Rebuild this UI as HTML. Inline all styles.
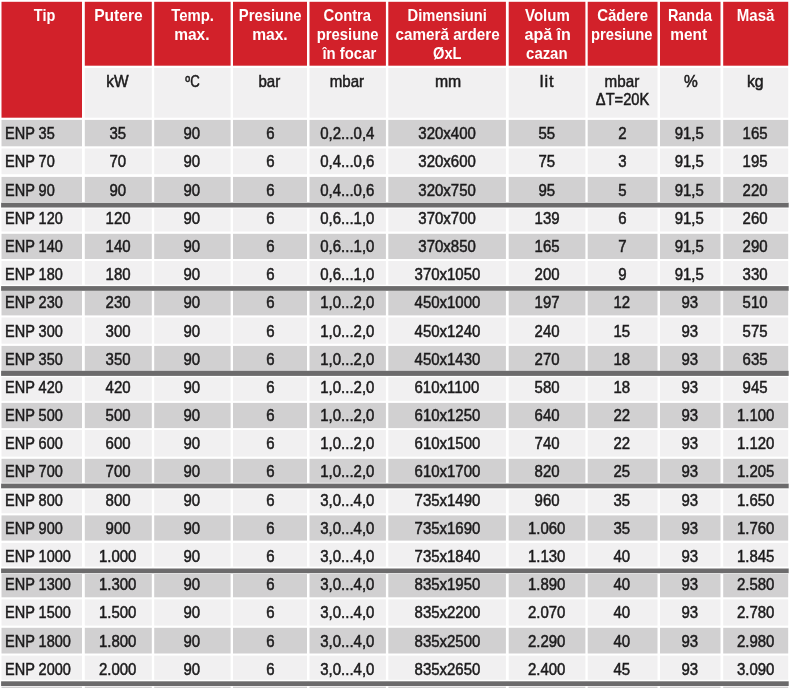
<!DOCTYPE html>
<html lang="ro"><head><meta charset="utf-8"><title>ENP</title><style>
html,body{margin:0;padding:0;background:#fff;}
body{width:790px;height:688px;position:relative;overflow:hidden;font-family:"Liberation Sans",sans-serif;}
#bg{position:absolute;left:0;top:0;width:790px;height:688px;display:block;}
.t{position:absolute;white-space:nowrap;color:#1c1b1c;font-size:15.7px;line-height:20px;height:20px;text-align:center;}
.t span{display:inline-block;transform:scaleX(0.955);transform-origin:50% 50%;}
.t.l{text-align:left;}
.t.l span{transform-origin:0 50%;}
.h{position:absolute;white-space:nowrap;color:#fff;font-weight:bold;font-size:15.7px;line-height:20px;height:20px;text-align:center;}
.h span{display:inline-block;transform-origin:50% 50%;}
.u{font-size:15.7px;}
#tx{position:absolute;left:0;top:0;width:790px;height:688px;will-change:transform;}
.t{-webkit-text-stroke:0.5px #1c1b1c;}
.h{-webkit-text-stroke:0px #fff;}
</style></head><body>
<svg id="bg" width="790" height="688" viewBox="0 0 790 688">
<rect x="1.5" y="1.8" width="80.5" height="115.9" fill="#d2212a"/>
<rect x="84.8" y="1.8" width="67" height="63.9" fill="#d2212a"/>
<rect x="84.8" y="68" width="67" height="49.7" fill="#f1f0f1"/>
<rect x="154.2" y="1.8" width="76.4" height="63.9" fill="#d2212a"/>
<rect x="154.2" y="68" width="76.4" height="49.7" fill="#f1f0f1"/>
<rect x="233" y="1.8" width="74" height="63.9" fill="#d2212a"/>
<rect x="233" y="68" width="74" height="49.7" fill="#f1f0f1"/>
<rect x="309.5" y="1.8" width="76.4" height="63.9" fill="#d2212a"/>
<rect x="309.5" y="68" width="76.4" height="49.7" fill="#f1f0f1"/>
<rect x="388.3" y="1.8" width="117.6" height="63.9" fill="#d2212a"/>
<rect x="388.3" y="68" width="117.6" height="49.7" fill="#f1f0f1"/>
<rect x="508.7" y="1.8" width="76.7" height="63.9" fill="#d2212a"/>
<rect x="508.7" y="68" width="76.7" height="49.7" fill="#f1f0f1"/>
<rect x="587.7" y="1.8" width="69.8" height="63.9" fill="#d2212a"/>
<rect x="587.7" y="68" width="69.8" height="49.7" fill="#f1f0f1"/>
<rect x="660" y="1.8" width="60.5" height="63.9" fill="#d2212a"/>
<rect x="660" y="68" width="60.5" height="49.7" fill="#f1f0f1"/>
<rect x="723.2" y="1.8" width="65" height="63.9" fill="#d2212a"/>
<rect x="723.2" y="68" width="65" height="49.7" fill="#f1f0f1"/>
<rect x="1.5" y="119.9" width="80.5" height="26.4" fill="#d1d0d1"/>
<rect x="84.8" y="119.9" width="67" height="26.4" fill="#d1d0d1"/>
<rect x="154.2" y="119.9" width="76.4" height="26.4" fill="#d1d0d1"/>
<rect x="233" y="119.9" width="74" height="26.4" fill="#d1d0d1"/>
<rect x="309.5" y="119.9" width="76.4" height="26.4" fill="#d1d0d1"/>
<rect x="388.3" y="119.9" width="117.6" height="26.4" fill="#d1d0d1"/>
<rect x="508.7" y="119.9" width="76.7" height="26.4" fill="#d1d0d1"/>
<rect x="587.7" y="119.9" width="69.8" height="26.4" fill="#d1d0d1"/>
<rect x="660" y="119.9" width="60.5" height="26.4" fill="#d1d0d1"/>
<rect x="723.2" y="119.9" width="65" height="26.4" fill="#d1d0d1"/>
<rect x="1.5" y="148.5" width="80.5" height="25.7" fill="#f1f0f1"/>
<rect x="84.8" y="148.5" width="67" height="25.7" fill="#f1f0f1"/>
<rect x="154.2" y="148.5" width="76.4" height="25.7" fill="#f1f0f1"/>
<rect x="233" y="148.5" width="74" height="25.7" fill="#f1f0f1"/>
<rect x="309.5" y="148.5" width="76.4" height="25.7" fill="#f1f0f1"/>
<rect x="388.3" y="148.5" width="117.6" height="25.7" fill="#f1f0f1"/>
<rect x="508.7" y="148.5" width="76.7" height="25.7" fill="#f1f0f1"/>
<rect x="587.7" y="148.5" width="69.8" height="25.7" fill="#f1f0f1"/>
<rect x="660" y="148.5" width="60.5" height="25.7" fill="#f1f0f1"/>
<rect x="723.2" y="148.5" width="65" height="25.7" fill="#f1f0f1"/>
<rect x="1.5" y="176.9" width="80.5" height="25.1" fill="#d1d0d1"/>
<rect x="84.8" y="176.9" width="67" height="25.1" fill="#d1d0d1"/>
<rect x="154.2" y="176.9" width="76.4" height="25.1" fill="#d1d0d1"/>
<rect x="233" y="176.9" width="74" height="25.1" fill="#d1d0d1"/>
<rect x="309.5" y="176.9" width="76.4" height="25.1" fill="#d1d0d1"/>
<rect x="388.3" y="176.9" width="117.6" height="25.1" fill="#d1d0d1"/>
<rect x="508.7" y="176.9" width="76.7" height="25.1" fill="#d1d0d1"/>
<rect x="587.7" y="176.9" width="69.8" height="25.1" fill="#d1d0d1"/>
<rect x="660" y="176.9" width="60.5" height="25.1" fill="#d1d0d1"/>
<rect x="723.2" y="176.9" width="65" height="25.1" fill="#d1d0d1"/>
<rect x="1.5" y="208.6" width="80.5" height="22.9" fill="#f1f0f1"/>
<rect x="84.8" y="208.6" width="67" height="22.9" fill="#f1f0f1"/>
<rect x="154.2" y="208.6" width="76.4" height="22.9" fill="#f1f0f1"/>
<rect x="233" y="208.6" width="74" height="22.9" fill="#f1f0f1"/>
<rect x="309.5" y="208.6" width="76.4" height="22.9" fill="#f1f0f1"/>
<rect x="388.3" y="208.6" width="117.6" height="22.9" fill="#f1f0f1"/>
<rect x="508.7" y="208.6" width="76.7" height="22.9" fill="#f1f0f1"/>
<rect x="587.7" y="208.6" width="69.8" height="22.9" fill="#f1f0f1"/>
<rect x="660" y="208.6" width="60.5" height="22.9" fill="#f1f0f1"/>
<rect x="723.2" y="208.6" width="65" height="22.9" fill="#f1f0f1"/>
<rect x="1.5" y="233.8" width="80.5" height="25.2" fill="#d1d0d1"/>
<rect x="84.8" y="233.8" width="67" height="25.2" fill="#d1d0d1"/>
<rect x="154.2" y="233.8" width="76.4" height="25.2" fill="#d1d0d1"/>
<rect x="233" y="233.8" width="74" height="25.2" fill="#d1d0d1"/>
<rect x="309.5" y="233.8" width="76.4" height="25.2" fill="#d1d0d1"/>
<rect x="388.3" y="233.8" width="117.6" height="25.2" fill="#d1d0d1"/>
<rect x="508.7" y="233.8" width="76.7" height="25.2" fill="#d1d0d1"/>
<rect x="587.7" y="233.8" width="69.8" height="25.2" fill="#d1d0d1"/>
<rect x="660" y="233.8" width="60.5" height="25.2" fill="#d1d0d1"/>
<rect x="723.2" y="233.8" width="65" height="25.2" fill="#d1d0d1"/>
<rect x="1.5" y="261" width="80.5" height="23.7" fill="#f1f0f1"/>
<rect x="84.8" y="261" width="67" height="23.7" fill="#f1f0f1"/>
<rect x="154.2" y="261" width="76.4" height="23.7" fill="#f1f0f1"/>
<rect x="233" y="261" width="74" height="23.7" fill="#f1f0f1"/>
<rect x="309.5" y="261" width="76.4" height="23.7" fill="#f1f0f1"/>
<rect x="388.3" y="261" width="117.6" height="23.7" fill="#f1f0f1"/>
<rect x="508.7" y="261" width="76.7" height="23.7" fill="#f1f0f1"/>
<rect x="587.7" y="261" width="69.8" height="23.7" fill="#f1f0f1"/>
<rect x="660" y="261" width="60.5" height="23.7" fill="#f1f0f1"/>
<rect x="723.2" y="261" width="65" height="23.7" fill="#f1f0f1"/>
<rect x="1.5" y="290.8" width="80.5" height="24.6" fill="#d1d0d1"/>
<rect x="84.8" y="290.8" width="67" height="24.6" fill="#d1d0d1"/>
<rect x="154.2" y="290.8" width="76.4" height="24.6" fill="#d1d0d1"/>
<rect x="233" y="290.8" width="74" height="24.6" fill="#d1d0d1"/>
<rect x="309.5" y="290.8" width="76.4" height="24.6" fill="#d1d0d1"/>
<rect x="388.3" y="290.8" width="117.6" height="24.6" fill="#d1d0d1"/>
<rect x="508.7" y="290.8" width="76.7" height="24.6" fill="#d1d0d1"/>
<rect x="587.7" y="290.8" width="69.8" height="24.6" fill="#d1d0d1"/>
<rect x="660" y="290.8" width="60.5" height="24.6" fill="#d1d0d1"/>
<rect x="723.2" y="290.8" width="65" height="24.6" fill="#d1d0d1"/>
<rect x="1.5" y="317.5" width="80.5" height="26.2" fill="#f1f0f1"/>
<rect x="84.8" y="317.5" width="67" height="26.2" fill="#f1f0f1"/>
<rect x="154.2" y="317.5" width="76.4" height="26.2" fill="#f1f0f1"/>
<rect x="233" y="317.5" width="74" height="26.2" fill="#f1f0f1"/>
<rect x="309.5" y="317.5" width="76.4" height="26.2" fill="#f1f0f1"/>
<rect x="388.3" y="317.5" width="117.6" height="26.2" fill="#f1f0f1"/>
<rect x="508.7" y="317.5" width="76.7" height="26.2" fill="#f1f0f1"/>
<rect x="587.7" y="317.5" width="69.8" height="26.2" fill="#f1f0f1"/>
<rect x="660" y="317.5" width="60.5" height="26.2" fill="#f1f0f1"/>
<rect x="723.2" y="317.5" width="65" height="26.2" fill="#f1f0f1"/>
<rect x="1.5" y="345.9" width="80.5" height="24.9" fill="#d1d0d1"/>
<rect x="84.8" y="345.9" width="67" height="24.9" fill="#d1d0d1"/>
<rect x="154.2" y="345.9" width="76.4" height="24.9" fill="#d1d0d1"/>
<rect x="233" y="345.9" width="74" height="24.9" fill="#d1d0d1"/>
<rect x="309.5" y="345.9" width="76.4" height="24.9" fill="#d1d0d1"/>
<rect x="388.3" y="345.9" width="117.6" height="24.9" fill="#d1d0d1"/>
<rect x="508.7" y="345.9" width="76.7" height="24.9" fill="#d1d0d1"/>
<rect x="587.7" y="345.9" width="69.8" height="24.9" fill="#d1d0d1"/>
<rect x="660" y="345.9" width="60.5" height="24.9" fill="#d1d0d1"/>
<rect x="723.2" y="345.9" width="65" height="24.9" fill="#d1d0d1"/>
<rect x="1.5" y="377.2" width="80.5" height="23.6" fill="#f1f0f1"/>
<rect x="84.8" y="377.2" width="67" height="23.6" fill="#f1f0f1"/>
<rect x="154.2" y="377.2" width="76.4" height="23.6" fill="#f1f0f1"/>
<rect x="233" y="377.2" width="74" height="23.6" fill="#f1f0f1"/>
<rect x="309.5" y="377.2" width="76.4" height="23.6" fill="#f1f0f1"/>
<rect x="388.3" y="377.2" width="117.6" height="23.6" fill="#f1f0f1"/>
<rect x="508.7" y="377.2" width="76.7" height="23.6" fill="#f1f0f1"/>
<rect x="587.7" y="377.2" width="69.8" height="23.6" fill="#f1f0f1"/>
<rect x="660" y="377.2" width="60.5" height="23.6" fill="#f1f0f1"/>
<rect x="723.2" y="377.2" width="65" height="23.6" fill="#f1f0f1"/>
<rect x="1.5" y="402.9" width="80.5" height="25.2" fill="#d1d0d1"/>
<rect x="84.8" y="402.9" width="67" height="25.2" fill="#d1d0d1"/>
<rect x="154.2" y="402.9" width="76.4" height="25.2" fill="#d1d0d1"/>
<rect x="233" y="402.9" width="74" height="25.2" fill="#d1d0d1"/>
<rect x="309.5" y="402.9" width="76.4" height="25.2" fill="#d1d0d1"/>
<rect x="388.3" y="402.9" width="117.6" height="25.2" fill="#d1d0d1"/>
<rect x="508.7" y="402.9" width="76.7" height="25.2" fill="#d1d0d1"/>
<rect x="587.7" y="402.9" width="69.8" height="25.2" fill="#d1d0d1"/>
<rect x="660" y="402.9" width="60.5" height="25.2" fill="#d1d0d1"/>
<rect x="723.2" y="402.9" width="65" height="25.2" fill="#d1d0d1"/>
<rect x="1.5" y="430" width="80.5" height="26.6" fill="#f1f0f1"/>
<rect x="84.8" y="430" width="67" height="26.6" fill="#f1f0f1"/>
<rect x="154.2" y="430" width="76.4" height="26.6" fill="#f1f0f1"/>
<rect x="233" y="430" width="74" height="26.6" fill="#f1f0f1"/>
<rect x="309.5" y="430" width="76.4" height="26.6" fill="#f1f0f1"/>
<rect x="388.3" y="430" width="117.6" height="26.6" fill="#f1f0f1"/>
<rect x="508.7" y="430" width="76.7" height="26.6" fill="#f1f0f1"/>
<rect x="587.7" y="430" width="69.8" height="26.6" fill="#f1f0f1"/>
<rect x="660" y="430" width="60.5" height="26.6" fill="#f1f0f1"/>
<rect x="723.2" y="430" width="65" height="26.6" fill="#f1f0f1"/>
<rect x="1.5" y="458.8" width="80.5" height="24" fill="#d1d0d1"/>
<rect x="84.8" y="458.8" width="67" height="24" fill="#d1d0d1"/>
<rect x="154.2" y="458.8" width="76.4" height="24" fill="#d1d0d1"/>
<rect x="233" y="458.8" width="74" height="24" fill="#d1d0d1"/>
<rect x="309.5" y="458.8" width="76.4" height="24" fill="#d1d0d1"/>
<rect x="388.3" y="458.8" width="117.6" height="24" fill="#d1d0d1"/>
<rect x="508.7" y="458.8" width="76.7" height="24" fill="#d1d0d1"/>
<rect x="587.7" y="458.8" width="69.8" height="24" fill="#d1d0d1"/>
<rect x="660" y="458.8" width="60.5" height="24" fill="#d1d0d1"/>
<rect x="723.2" y="458.8" width="65" height="24" fill="#d1d0d1"/>
<rect x="1.5" y="489.6" width="80.5" height="23.7" fill="#f1f0f1"/>
<rect x="84.8" y="489.6" width="67" height="23.7" fill="#f1f0f1"/>
<rect x="154.2" y="489.6" width="76.4" height="23.7" fill="#f1f0f1"/>
<rect x="233" y="489.6" width="74" height="23.7" fill="#f1f0f1"/>
<rect x="309.5" y="489.6" width="76.4" height="23.7" fill="#f1f0f1"/>
<rect x="388.3" y="489.6" width="117.6" height="23.7" fill="#f1f0f1"/>
<rect x="508.7" y="489.6" width="76.7" height="23.7" fill="#f1f0f1"/>
<rect x="587.7" y="489.6" width="69.8" height="23.7" fill="#f1f0f1"/>
<rect x="660" y="489.6" width="60.5" height="23.7" fill="#f1f0f1"/>
<rect x="723.2" y="489.6" width="65" height="23.7" fill="#f1f0f1"/>
<rect x="1.5" y="515.4" width="80.5" height="25.2" fill="#d1d0d1"/>
<rect x="84.8" y="515.4" width="67" height="25.2" fill="#d1d0d1"/>
<rect x="154.2" y="515.4" width="76.4" height="25.2" fill="#d1d0d1"/>
<rect x="233" y="515.4" width="74" height="25.2" fill="#d1d0d1"/>
<rect x="309.5" y="515.4" width="76.4" height="25.2" fill="#d1d0d1"/>
<rect x="388.3" y="515.4" width="117.6" height="25.2" fill="#d1d0d1"/>
<rect x="508.7" y="515.4" width="76.7" height="25.2" fill="#d1d0d1"/>
<rect x="587.7" y="515.4" width="69.8" height="25.2" fill="#d1d0d1"/>
<rect x="660" y="515.4" width="60.5" height="25.2" fill="#d1d0d1"/>
<rect x="723.2" y="515.4" width="65" height="25.2" fill="#d1d0d1"/>
<rect x="1.5" y="542.9" width="80.5" height="23.7" fill="#f1f0f1"/>
<rect x="84.8" y="542.9" width="67" height="23.7" fill="#f1f0f1"/>
<rect x="154.2" y="542.9" width="76.4" height="23.7" fill="#f1f0f1"/>
<rect x="233" y="542.9" width="74" height="23.7" fill="#f1f0f1"/>
<rect x="309.5" y="542.9" width="76.4" height="23.7" fill="#f1f0f1"/>
<rect x="388.3" y="542.9" width="117.6" height="23.7" fill="#f1f0f1"/>
<rect x="508.7" y="542.9" width="76.7" height="23.7" fill="#f1f0f1"/>
<rect x="587.7" y="542.9" width="69.8" height="23.7" fill="#f1f0f1"/>
<rect x="660" y="542.9" width="60.5" height="23.7" fill="#f1f0f1"/>
<rect x="723.2" y="542.9" width="65" height="23.7" fill="#f1f0f1"/>
<rect x="1.5" y="574" width="80.5" height="23.3" fill="#d1d0d1"/>
<rect x="84.8" y="574" width="67" height="23.3" fill="#d1d0d1"/>
<rect x="154.2" y="574" width="76.4" height="23.3" fill="#d1d0d1"/>
<rect x="233" y="574" width="74" height="23.3" fill="#d1d0d1"/>
<rect x="309.5" y="574" width="76.4" height="23.3" fill="#d1d0d1"/>
<rect x="388.3" y="574" width="117.6" height="23.3" fill="#d1d0d1"/>
<rect x="508.7" y="574" width="76.7" height="23.3" fill="#d1d0d1"/>
<rect x="587.7" y="574" width="69.8" height="23.3" fill="#d1d0d1"/>
<rect x="660" y="574" width="60.5" height="23.3" fill="#d1d0d1"/>
<rect x="723.2" y="574" width="65" height="23.3" fill="#d1d0d1"/>
<rect x="1.5" y="599.4" width="80.5" height="26.2" fill="#f1f0f1"/>
<rect x="84.8" y="599.4" width="67" height="26.2" fill="#f1f0f1"/>
<rect x="154.2" y="599.4" width="76.4" height="26.2" fill="#f1f0f1"/>
<rect x="233" y="599.4" width="74" height="26.2" fill="#f1f0f1"/>
<rect x="309.5" y="599.4" width="76.4" height="26.2" fill="#f1f0f1"/>
<rect x="388.3" y="599.4" width="117.6" height="26.2" fill="#f1f0f1"/>
<rect x="508.7" y="599.4" width="76.7" height="26.2" fill="#f1f0f1"/>
<rect x="587.7" y="599.4" width="69.8" height="26.2" fill="#f1f0f1"/>
<rect x="660" y="599.4" width="60.5" height="26.2" fill="#f1f0f1"/>
<rect x="723.2" y="599.4" width="65" height="26.2" fill="#f1f0f1"/>
<rect x="1.5" y="627.8" width="80.5" height="25.7" fill="#d1d0d1"/>
<rect x="84.8" y="627.8" width="67" height="25.7" fill="#d1d0d1"/>
<rect x="154.2" y="627.8" width="76.4" height="25.7" fill="#d1d0d1"/>
<rect x="233" y="627.8" width="74" height="25.7" fill="#d1d0d1"/>
<rect x="309.5" y="627.8" width="76.4" height="25.7" fill="#d1d0d1"/>
<rect x="388.3" y="627.8" width="117.6" height="25.7" fill="#d1d0d1"/>
<rect x="508.7" y="627.8" width="76.7" height="25.7" fill="#d1d0d1"/>
<rect x="587.7" y="627.8" width="69.8" height="25.7" fill="#d1d0d1"/>
<rect x="660" y="627.8" width="60.5" height="25.7" fill="#d1d0d1"/>
<rect x="723.2" y="627.8" width="65" height="25.7" fill="#d1d0d1"/>
<rect x="1.5" y="655.6" width="80.5" height="24.2" fill="#f1f0f1"/>
<rect x="84.8" y="655.6" width="67" height="24.2" fill="#f1f0f1"/>
<rect x="154.2" y="655.6" width="76.4" height="24.2" fill="#f1f0f1"/>
<rect x="233" y="655.6" width="74" height="24.2" fill="#f1f0f1"/>
<rect x="309.5" y="655.6" width="76.4" height="24.2" fill="#f1f0f1"/>
<rect x="388.3" y="655.6" width="117.6" height="24.2" fill="#f1f0f1"/>
<rect x="508.7" y="655.6" width="76.7" height="24.2" fill="#f1f0f1"/>
<rect x="587.7" y="655.6" width="69.8" height="24.2" fill="#f1f0f1"/>
<rect x="660" y="655.6" width="60.5" height="24.2" fill="#f1f0f1"/>
<rect x="723.2" y="655.6" width="65" height="24.2" fill="#f1f0f1"/>
<rect x="1.1" y="202.7" width="787.6" height="4.8" fill="#6c6b6c"/>
<rect x="1.1" y="286.1" width="787.6" height="4.7" fill="#6c6b6c"/>
<rect x="1.1" y="370.8" width="787.6" height="5.1" fill="#6c6b6c"/>
<rect x="1.1" y="483.6" width="787.6" height="4.7" fill="#6c6b6c"/>
<rect x="1.1" y="568.5" width="787.6" height="4.7" fill="#6c6b6c"/>
<rect x="1.1" y="681.3" width="787.6" height="4.7" fill="#6c6b6c"/>
<rect x="1.5" y="686.6" width="80.5" height="1.4" fill="#d1d0d1"/>
<rect x="84.8" y="686.6" width="67" height="1.4" fill="#d1d0d1"/>
<rect x="154.2" y="686.6" width="76.4" height="1.4" fill="#d1d0d1"/>
<rect x="233" y="686.6" width="74" height="1.4" fill="#d1d0d1"/>
<rect x="309.5" y="686.6" width="76.4" height="1.4" fill="#d1d0d1"/>
<rect x="388.3" y="686.6" width="117.6" height="1.4" fill="#d1d0d1"/>
<rect x="508.7" y="686.6" width="76.7" height="1.4" fill="#d1d0d1"/>
<rect x="587.7" y="686.6" width="69.8" height="1.4" fill="#d1d0d1"/>
<rect x="660" y="686.6" width="60.5" height="1.4" fill="#d1d0d1"/>
<rect x="723.2" y="686.6" width="65" height="1.4" fill="#d1d0d1"/>
</svg>
<div id="tx">
<div class="h" style="left:4.25px;width:80.5px;top:6.00px"><span style="transform:scaleX(0.925)">Tip</span></div>
<div class="h" style="left:84.7px;width:67px;top:6.00px"><span style="transform:scaleX(0.994)">Putere</span></div>
<div class="h" style="left:154.6px;width:76.4px;top:6.00px"><span style="transform:scaleX(0.949)">Temp.</span></div>
<div class="h" style="left:153.35px;width:76.4px;top:25.00px"><span style="transform:scaleX(0.987)">max.</span></div>
<div class="h" style="left:233px;width:74px;top:6.00px"><span style="transform:scaleX(0.947)">Presiune</span></div>
<div class="h" style="left:232.75px;width:74px;top:25.00px"><span style="transform:scaleX(0.993)">max.</span></div>
<div class="h" style="left:309.5px;width:76.4px;top:6.00px"><span style="transform:scaleX(0.942)">Contra</span></div>
<div class="h" style="left:309.15px;width:76.4px;top:25.00px"><span style="transform:scaleX(0.945)">presiune</span></div>
<div class="h" style="left:310.8px;width:76.4px;top:44.00px"><span style="transform:scaleX(0.948)">în focar</span></div>
<div class="h" style="left:388.95px;width:117.6px;top:6.00px"><span style="transform:scaleX(0.938)">Dimensiuni</span></div>
<div class="h" style="left:389px;width:117.6px;top:25.00px"><span style="transform:scaleX(0.971)">cameră ardere</span></div>
<div class="h" style="left:388.4px;width:117.6px;top:44.00px"><span style="transform:scaleX(0.935)">ØxL</span></div>
<div class="h" style="left:508.85px;width:76.7px;top:6.00px"><span style="transform:scaleX(0.958)">Volum</span></div>
<div class="h" style="left:509.35px;width:76.7px;top:25.00px"><span style="transform:scaleX(1.025)">apă în</span></div>
<div class="h" style="left:508.95px;width:76.7px;top:44.00px"><span style="transform:scaleX(0.95)">cazan</span></div>
<div class="h" style="left:587.35px;width:69.8px;top:6.00px"><span style="transform:scaleX(0.953)">Cădere</span></div>
<div class="h" style="left:586.9px;width:69.8px;top:25.00px"><span style="transform:scaleX(0.941)">presiune</span></div>
<div class="h" style="left:659.25px;width:60.5px;top:6.00px"><span style="transform:scaleX(0.92)">Randa</span></div>
<div class="h" style="left:658.5px;width:60.5px;top:25.00px"><span style="transform:scaleX(0.984)">ment</span></div>
<div class="h" style="left:722.7px;width:65px;top:6.00px"><span style="transform:scaleX(0.959)">Masă</span></div>
<div class="t u" style="left:83.8px;width:67px;top:72.00px"><span style="transform:scaleX(0.987)">kW</span></div>
<div class="t u" style="left:154px;width:76.4px;top:72.00px"><span style="transform:scaleX(0.84)">ºC</span></div>
<div class="t u" style="left:232.35px;width:74px;top:72.00px"><span style="transform:scaleX(0.96)">bar</span></div>
<div class="t u" style="left:308.3px;width:76.4px;top:72.00px"><span style="transform:scaleX(0.961)">mbar</span></div>
<div class="t u" style="left:389.05px;width:117.6px;top:72.00px"><span style="transform:scaleX(1.007)">mm</span></div>
<div class="t u" style="left:507.9px;width:76.7px;top:72.00px"><span style="transform:scaleX(1.04)"><i style="font-style:normal;letter-spacing:1px;margin-right:-1px">lit</i></span></div>
<div class="t u" style="left:587.2px;width:69.8px;top:72.00px"><span style="transform:scaleX(0.969)">mbar</span></div>
<div class="t u" style="left:587.95px;width:69.8px;top:90.00px"><span style="transform:scaleX(0.936)">ΔT=20K</span></div>
<div class="t u" style="left:660.3px;width:60.5px;top:72.00px"><span style="transform:scaleX(0.987)">%</span></div>
<div class="t u" style="left:722.8px;width:65px;top:72.00px"><span style="transform:scaleX(1.01)">kg</span></div>
<div class="t l" style="left:5px;width:80.5px;top:124.00px"><span style="transform:scaleX(0.925)">ENP 35</span></div>
<div class="t" style="left:84.3px;width:67px;top:124.00px"><span>35</span></div>
<div class="t" style="left:153.7px;width:76.4px;top:124.00px"><span>90</span></div>
<div class="t" style="left:233px;width:74px;top:124.00px"><span>6</span></div>
<div class="t" style="left:309.5px;width:76.4px;top:124.00px"><span>0,2...0,4</span></div>
<div class="t" style="left:388.3px;width:117.6px;top:124.00px"><span>320x400</span></div>
<div class="t" style="left:508.7px;width:76.7px;top:124.00px"><span>55</span></div>
<div class="t" style="left:587.2px;width:69.8px;top:124.00px"><span>2</span></div>
<div class="t" style="left:659px;width:60.5px;top:124.00px"><span>91,5</span></div>
<div class="t" style="left:722.7px;width:65px;top:124.00px"><span>165</span></div>
<div class="t l" style="left:5px;width:80.5px;top:152.00px"><span style="transform:scaleX(0.925)">ENP 70</span></div>
<div class="t" style="left:84.3px;width:67px;top:152.00px"><span>70</span></div>
<div class="t" style="left:153.7px;width:76.4px;top:152.00px"><span>90</span></div>
<div class="t" style="left:233px;width:74px;top:152.00px"><span>6</span></div>
<div class="t" style="left:309.5px;width:76.4px;top:152.00px"><span>0,4...0,6</span></div>
<div class="t" style="left:388.3px;width:117.6px;top:152.00px"><span>320x600</span></div>
<div class="t" style="left:508.7px;width:76.7px;top:152.00px"><span>75</span></div>
<div class="t" style="left:587.2px;width:69.8px;top:152.00px"><span>3</span></div>
<div class="t" style="left:659px;width:60.5px;top:152.00px"><span>91,5</span></div>
<div class="t" style="left:722.7px;width:65px;top:152.00px"><span>195</span></div>
<div class="t l" style="left:5px;width:80.5px;top:181.00px"><span style="transform:scaleX(0.925)">ENP 90</span></div>
<div class="t" style="left:84.3px;width:67px;top:181.00px"><span>90</span></div>
<div class="t" style="left:153.7px;width:76.4px;top:181.00px"><span>90</span></div>
<div class="t" style="left:233px;width:74px;top:181.00px"><span>6</span></div>
<div class="t" style="left:309.5px;width:76.4px;top:181.00px"><span>0,4...0,6</span></div>
<div class="t" style="left:388.3px;width:117.6px;top:181.00px"><span>320x750</span></div>
<div class="t" style="left:508.7px;width:76.7px;top:181.00px"><span>95</span></div>
<div class="t" style="left:587.2px;width:69.8px;top:181.00px"><span>5</span></div>
<div class="t" style="left:659px;width:60.5px;top:181.00px"><span>91,5</span></div>
<div class="t" style="left:722.7px;width:65px;top:181.00px"><span>220</span></div>
<div class="t l" style="left:5px;width:80.5px;top:209.00px"><span style="transform:scaleX(0.925)">ENP 120</span></div>
<div class="t" style="left:84.3px;width:67px;top:209.00px"><span>120</span></div>
<div class="t" style="left:153.7px;width:76.4px;top:209.00px"><span>90</span></div>
<div class="t" style="left:233px;width:74px;top:209.00px"><span>6</span></div>
<div class="t" style="left:309.5px;width:76.4px;top:209.00px"><span>0,6...1,0</span></div>
<div class="t" style="left:388.3px;width:117.6px;top:209.00px"><span>370x700</span></div>
<div class="t" style="left:508.7px;width:76.7px;top:209.00px"><span>139</span></div>
<div class="t" style="left:587.2px;width:69.8px;top:209.00px"><span>6</span></div>
<div class="t" style="left:659px;width:60.5px;top:209.00px"><span>91,5</span></div>
<div class="t" style="left:722.7px;width:65px;top:209.00px"><span>260</span></div>
<div class="t l" style="left:5px;width:80.5px;top:237.00px"><span style="transform:scaleX(0.925)">ENP 140</span></div>
<div class="t" style="left:84.3px;width:67px;top:237.00px"><span>140</span></div>
<div class="t" style="left:153.7px;width:76.4px;top:237.00px"><span>90</span></div>
<div class="t" style="left:233px;width:74px;top:237.00px"><span>6</span></div>
<div class="t" style="left:309.5px;width:76.4px;top:237.00px"><span>0,6...1,0</span></div>
<div class="t" style="left:388.3px;width:117.6px;top:237.00px"><span>370x850</span></div>
<div class="t" style="left:508.7px;width:76.7px;top:237.00px"><span>165</span></div>
<div class="t" style="left:587.2px;width:69.8px;top:237.00px"><span>7</span></div>
<div class="t" style="left:659px;width:60.5px;top:237.00px"><span>91,5</span></div>
<div class="t" style="left:722.7px;width:65px;top:237.00px"><span>290</span></div>
<div class="t l" style="left:5px;width:80.5px;top:265.00px"><span style="transform:scaleX(0.925)">ENP 180</span></div>
<div class="t" style="left:84.3px;width:67px;top:265.00px"><span>180</span></div>
<div class="t" style="left:153.7px;width:76.4px;top:265.00px"><span>90</span></div>
<div class="t" style="left:233px;width:74px;top:265.00px"><span>6</span></div>
<div class="t" style="left:309.5px;width:76.4px;top:265.00px"><span>0,6...1,0</span></div>
<div class="t" style="left:388.3px;width:117.6px;top:265.00px"><span>370x1050</span></div>
<div class="t" style="left:508.7px;width:76.7px;top:265.00px"><span>200</span></div>
<div class="t" style="left:587.2px;width:69.8px;top:265.00px"><span>9</span></div>
<div class="t" style="left:659px;width:60.5px;top:265.00px"><span>91,5</span></div>
<div class="t" style="left:722.7px;width:65px;top:265.00px"><span>330</span></div>
<div class="t l" style="left:5px;width:80.5px;top:293.00px"><span style="transform:scaleX(0.925)">ENP 230</span></div>
<div class="t" style="left:84.3px;width:67px;top:293.00px"><span>230</span></div>
<div class="t" style="left:153.7px;width:76.4px;top:293.00px"><span>90</span></div>
<div class="t" style="left:233px;width:74px;top:293.00px"><span>6</span></div>
<div class="t" style="left:309.5px;width:76.4px;top:293.00px"><span>1,0...2,0</span></div>
<div class="t" style="left:388.3px;width:117.6px;top:293.00px"><span>450x1000</span></div>
<div class="t" style="left:508.7px;width:76.7px;top:293.00px"><span>197</span></div>
<div class="t" style="left:587.2px;width:69.8px;top:293.00px"><span>12</span></div>
<div class="t" style="left:659px;width:60.5px;top:293.00px"><span>93</span></div>
<div class="t" style="left:722.7px;width:65px;top:293.00px"><span>510</span></div>
<div class="t l" style="left:5px;width:80.5px;top:322.00px"><span style="transform:scaleX(0.925)">ENP 300</span></div>
<div class="t" style="left:84.3px;width:67px;top:322.00px"><span>300</span></div>
<div class="t" style="left:153.7px;width:76.4px;top:322.00px"><span>90</span></div>
<div class="t" style="left:233px;width:74px;top:322.00px"><span>6</span></div>
<div class="t" style="left:309.5px;width:76.4px;top:322.00px"><span>1,0...2,0</span></div>
<div class="t" style="left:388.3px;width:117.6px;top:322.00px"><span>450x1240</span></div>
<div class="t" style="left:508.7px;width:76.7px;top:322.00px"><span>240</span></div>
<div class="t" style="left:587.2px;width:69.8px;top:322.00px"><span>15</span></div>
<div class="t" style="left:659px;width:60.5px;top:322.00px"><span>93</span></div>
<div class="t" style="left:722.7px;width:65px;top:322.00px"><span>575</span></div>
<div class="t l" style="left:5px;width:80.5px;top:350.00px"><span style="transform:scaleX(0.925)">ENP 350</span></div>
<div class="t" style="left:84.3px;width:67px;top:350.00px"><span>350</span></div>
<div class="t" style="left:153.7px;width:76.4px;top:350.00px"><span>90</span></div>
<div class="t" style="left:233px;width:74px;top:350.00px"><span>6</span></div>
<div class="t" style="left:309.5px;width:76.4px;top:350.00px"><span>1,0...2,0</span></div>
<div class="t" style="left:388.3px;width:117.6px;top:350.00px"><span>450x1430</span></div>
<div class="t" style="left:508.7px;width:76.7px;top:350.00px"><span>270</span></div>
<div class="t" style="left:587.2px;width:69.8px;top:350.00px"><span>18</span></div>
<div class="t" style="left:659px;width:60.5px;top:350.00px"><span>93</span></div>
<div class="t" style="left:722.7px;width:65px;top:350.00px"><span>635</span></div>
<div class="t l" style="left:5px;width:80.5px;top:378.00px"><span style="transform:scaleX(0.925)">ENP 420</span></div>
<div class="t" style="left:84.3px;width:67px;top:378.00px"><span>420</span></div>
<div class="t" style="left:153.7px;width:76.4px;top:378.00px"><span>90</span></div>
<div class="t" style="left:233px;width:74px;top:378.00px"><span>6</span></div>
<div class="t" style="left:309.5px;width:76.4px;top:378.00px"><span>1,0...2,0</span></div>
<div class="t" style="left:388.3px;width:117.6px;top:378.00px"><span>610x1100</span></div>
<div class="t" style="left:508.7px;width:76.7px;top:378.00px"><span>580</span></div>
<div class="t" style="left:587.2px;width:69.8px;top:378.00px"><span>18</span></div>
<div class="t" style="left:659px;width:60.5px;top:378.00px"><span>93</span></div>
<div class="t" style="left:722.7px;width:65px;top:378.00px"><span>945</span></div>
<div class="t l" style="left:5px;width:80.5px;top:406.00px"><span style="transform:scaleX(0.925)">ENP 500</span></div>
<div class="t" style="left:84.3px;width:67px;top:406.00px"><span>500</span></div>
<div class="t" style="left:153.7px;width:76.4px;top:406.00px"><span>90</span></div>
<div class="t" style="left:233px;width:74px;top:406.00px"><span>6</span></div>
<div class="t" style="left:309.5px;width:76.4px;top:406.00px"><span>1,0...2,0</span></div>
<div class="t" style="left:388.3px;width:117.6px;top:406.00px"><span>610x1250</span></div>
<div class="t" style="left:508.7px;width:76.7px;top:406.00px"><span>640</span></div>
<div class="t" style="left:587.2px;width:69.8px;top:406.00px"><span>22</span></div>
<div class="t" style="left:659px;width:60.5px;top:406.00px"><span>93</span></div>
<div class="t" style="left:722.7px;width:65px;top:406.00px"><span>1.100</span></div>
<div class="t l" style="left:5px;width:80.5px;top:434.00px"><span style="transform:scaleX(0.925)">ENP 600</span></div>
<div class="t" style="left:84.3px;width:67px;top:434.00px"><span>600</span></div>
<div class="t" style="left:153.7px;width:76.4px;top:434.00px"><span>90</span></div>
<div class="t" style="left:233px;width:74px;top:434.00px"><span>6</span></div>
<div class="t" style="left:309.5px;width:76.4px;top:434.00px"><span>1,0...2,0</span></div>
<div class="t" style="left:388.3px;width:117.6px;top:434.00px"><span>610x1500</span></div>
<div class="t" style="left:508.7px;width:76.7px;top:434.00px"><span>740</span></div>
<div class="t" style="left:587.2px;width:69.8px;top:434.00px"><span>22</span></div>
<div class="t" style="left:659px;width:60.5px;top:434.00px"><span>93</span></div>
<div class="t" style="left:722.7px;width:65px;top:434.00px"><span>1.120</span></div>
<div class="t l" style="left:5px;width:80.5px;top:462.00px"><span style="transform:scaleX(0.925)">ENP 700</span></div>
<div class="t" style="left:84.3px;width:67px;top:462.00px"><span>700</span></div>
<div class="t" style="left:153.7px;width:76.4px;top:462.00px"><span>90</span></div>
<div class="t" style="left:233px;width:74px;top:462.00px"><span>6</span></div>
<div class="t" style="left:309.5px;width:76.4px;top:462.00px"><span>1,0...2,0</span></div>
<div class="t" style="left:388.3px;width:117.6px;top:462.00px"><span>610x1700</span></div>
<div class="t" style="left:508.7px;width:76.7px;top:462.00px"><span>820</span></div>
<div class="t" style="left:587.2px;width:69.8px;top:462.00px"><span>25</span></div>
<div class="t" style="left:659px;width:60.5px;top:462.00px"><span>93</span></div>
<div class="t" style="left:722.7px;width:65px;top:462.00px"><span>1.205</span></div>
<div class="t l" style="left:5px;width:80.5px;top:491.00px"><span style="transform:scaleX(0.925)">ENP 800</span></div>
<div class="t" style="left:84.3px;width:67px;top:491.00px"><span>800</span></div>
<div class="t" style="left:153.7px;width:76.4px;top:491.00px"><span>90</span></div>
<div class="t" style="left:233px;width:74px;top:491.00px"><span>6</span></div>
<div class="t" style="left:309.5px;width:76.4px;top:491.00px"><span>3,0...4,0</span></div>
<div class="t" style="left:388.3px;width:117.6px;top:491.00px"><span>735x1490</span></div>
<div class="t" style="left:508.7px;width:76.7px;top:491.00px"><span>960</span></div>
<div class="t" style="left:587.2px;width:69.8px;top:491.00px"><span>35</span></div>
<div class="t" style="left:659px;width:60.5px;top:491.00px"><span>93</span></div>
<div class="t" style="left:722.7px;width:65px;top:491.00px"><span>1.650</span></div>
<div class="t l" style="left:5px;width:80.5px;top:519.00px"><span style="transform:scaleX(0.925)">ENP 900</span></div>
<div class="t" style="left:84.3px;width:67px;top:519.00px"><span>900</span></div>
<div class="t" style="left:153.7px;width:76.4px;top:519.00px"><span>90</span></div>
<div class="t" style="left:233px;width:74px;top:519.00px"><span>6</span></div>
<div class="t" style="left:309.5px;width:76.4px;top:519.00px"><span>3,0...4,0</span></div>
<div class="t" style="left:388.3px;width:117.6px;top:519.00px"><span>735x1690</span></div>
<div class="t" style="left:508.7px;width:76.7px;top:519.00px"><span>1.060</span></div>
<div class="t" style="left:587.2px;width:69.8px;top:519.00px"><span>35</span></div>
<div class="t" style="left:659px;width:60.5px;top:519.00px"><span>93</span></div>
<div class="t" style="left:722.7px;width:65px;top:519.00px"><span>1.760</span></div>
<div class="t l" style="left:5px;width:80.5px;top:547.00px"><span style="transform:scaleX(0.925)">ENP 1000</span></div>
<div class="t" style="left:84.3px;width:67px;top:547.00px"><span>1.000</span></div>
<div class="t" style="left:153.7px;width:76.4px;top:547.00px"><span>90</span></div>
<div class="t" style="left:233px;width:74px;top:547.00px"><span>6</span></div>
<div class="t" style="left:309.5px;width:76.4px;top:547.00px"><span>3,0...4,0</span></div>
<div class="t" style="left:388.3px;width:117.6px;top:547.00px"><span>735x1840</span></div>
<div class="t" style="left:508.7px;width:76.7px;top:547.00px"><span>1.130</span></div>
<div class="t" style="left:587.2px;width:69.8px;top:547.00px"><span>40</span></div>
<div class="t" style="left:659px;width:60.5px;top:547.00px"><span>93</span></div>
<div class="t" style="left:722.7px;width:65px;top:547.00px"><span>1.845</span></div>
<div class="t l" style="left:5px;width:80.5px;top:575.00px"><span style="transform:scaleX(0.925)">ENP 1300</span></div>
<div class="t" style="left:84.3px;width:67px;top:575.00px"><span>1.300</span></div>
<div class="t" style="left:153.7px;width:76.4px;top:575.00px"><span>90</span></div>
<div class="t" style="left:233px;width:74px;top:575.00px"><span>6</span></div>
<div class="t" style="left:309.5px;width:76.4px;top:575.00px"><span>3,0...4,0</span></div>
<div class="t" style="left:388.3px;width:117.6px;top:575.00px"><span>835x1950</span></div>
<div class="t" style="left:508.7px;width:76.7px;top:575.00px"><span>1.890</span></div>
<div class="t" style="left:587.2px;width:69.8px;top:575.00px"><span>40</span></div>
<div class="t" style="left:659px;width:60.5px;top:575.00px"><span>93</span></div>
<div class="t" style="left:722.7px;width:65px;top:575.00px"><span>2.580</span></div>
<div class="t l" style="left:5px;width:80.5px;top:603.00px"><span style="transform:scaleX(0.925)">ENP 1500</span></div>
<div class="t" style="left:84.3px;width:67px;top:603.00px"><span>1.500</span></div>
<div class="t" style="left:153.7px;width:76.4px;top:603.00px"><span>90</span></div>
<div class="t" style="left:233px;width:74px;top:603.00px"><span>6</span></div>
<div class="t" style="left:309.5px;width:76.4px;top:603.00px"><span>3,0...4,0</span></div>
<div class="t" style="left:388.3px;width:117.6px;top:603.00px"><span>835x2200</span></div>
<div class="t" style="left:508.7px;width:76.7px;top:603.00px"><span>2.070</span></div>
<div class="t" style="left:587.2px;width:69.8px;top:603.00px"><span>40</span></div>
<div class="t" style="left:659px;width:60.5px;top:603.00px"><span>93</span></div>
<div class="t" style="left:722.7px;width:65px;top:603.00px"><span>2.780</span></div>
<div class="t l" style="left:5px;width:80.5px;top:632.00px"><span style="transform:scaleX(0.925)">ENP 1800</span></div>
<div class="t" style="left:84.3px;width:67px;top:632.00px"><span>1.800</span></div>
<div class="t" style="left:153.7px;width:76.4px;top:632.00px"><span>90</span></div>
<div class="t" style="left:233px;width:74px;top:632.00px"><span>6</span></div>
<div class="t" style="left:309.5px;width:76.4px;top:632.00px"><span>3,0...4,0</span></div>
<div class="t" style="left:388.3px;width:117.6px;top:632.00px"><span>835x2500</span></div>
<div class="t" style="left:508.7px;width:76.7px;top:632.00px"><span>2.290</span></div>
<div class="t" style="left:587.2px;width:69.8px;top:632.00px"><span>40</span></div>
<div class="t" style="left:659px;width:60.5px;top:632.00px"><span>93</span></div>
<div class="t" style="left:722.7px;width:65px;top:632.00px"><span>2.980</span></div>
<div class="t l" style="left:5px;width:80.5px;top:660.00px"><span style="transform:scaleX(0.925)">ENP 2000</span></div>
<div class="t" style="left:84.3px;width:67px;top:660.00px"><span>2.000</span></div>
<div class="t" style="left:153.7px;width:76.4px;top:660.00px"><span>90</span></div>
<div class="t" style="left:233px;width:74px;top:660.00px"><span>6</span></div>
<div class="t" style="left:309.5px;width:76.4px;top:660.00px"><span>3,0...4,0</span></div>
<div class="t" style="left:388.3px;width:117.6px;top:660.00px"><span>835x2650</span></div>
<div class="t" style="left:508.7px;width:76.7px;top:660.00px"><span>2.400</span></div>
<div class="t" style="left:587.2px;width:69.8px;top:660.00px"><span>45</span></div>
<div class="t" style="left:659px;width:60.5px;top:660.00px"><span>93</span></div>
<div class="t" style="left:722.7px;width:65px;top:660.00px"><span>3.090</span></div>
</div>
</body></html>
